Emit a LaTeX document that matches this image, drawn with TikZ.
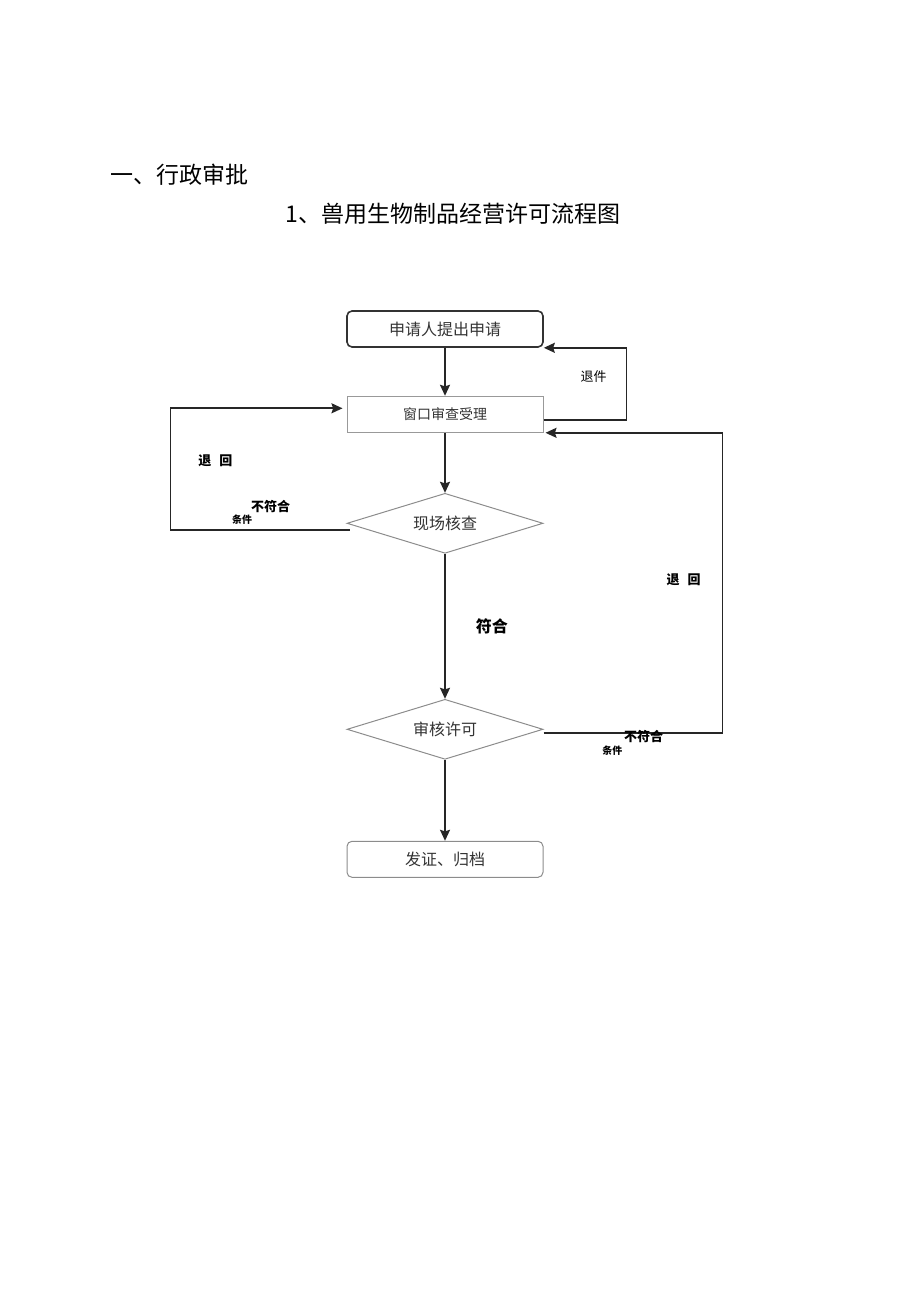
\documentclass[tikz,border=0pt]{standalone}
\usepackage{fontspec}
\newfontfamily\cjk{Noto Sans CJK SC}
\usetikzlibrary{arrows.meta,positioning,calc,shapes.geometric}

\begin{document}
\begin{tikzpicture}[
  x=0.5pt, y=-0.5pt,
  title/.style={font=\cjk\fontsize{11.5}{14}\selectfont, inner sep=0pt, anchor=west},
  box/.style={rectangle, draw=black!80, line width=0.8pt, rounded corners=2.5pt, minimum width=98pt, minimum height=18pt, align=center, inner sep=0pt, text=black!80, font=\cjk\fontsize{8}{10}\selectfont},
  plainbox/.style={box, rounded corners=0pt, draw=black!40, line width=0.5pt, font=\cjk\fontsize{7}{9}\selectfont},
  softbox/.style={box, draw=black!45, line width=0.5pt},
  check/.style={diamond, draw=black!45, line width=0.5pt, aspect=3.2, minimum width=98pt, minimum height=30pt, inner sep=0pt, text=black!80, font=\cjk\fontsize{8}{10}\selectfont},
  arrow/.style={-{Stealth[length=5.5pt, width=5pt, inset=0.8pt]}, line width=0.9pt, draw=black!85},
  lbl/.style={inner sep=0pt, font=\cjk\bfseries\fontsize{6.5}{8}\selectfont},
  note/.style={inner sep=0pt, font=\cjk\fontsize{6.5}{8}\selectfont},
  tiny/.style={inner sep=0pt, font=\cjk\bfseries\fontsize{5}{6}\selectfont},
]
\useasboundingbox (0,0) rectangle (920,1301);

% headings
\node[title] (sec) at (110,175) {一、行政审批};
\node[title] (ttl) at (285,214) {1、兽用生物制品经营许可流程图};

% flow
\node[box] (apply) at (445,329) {申请人提出申请};
\node[plainbox, below=24pt of apply] (accept) {窗口审查受理};
\node[check, below=30pt of accept] (site) {现场核查};
\node[check, below=72.5pt of site] (permit) {审核许可};
\node[softbox, below=40.5pt of permit] (issue) {发证、归档};

\draw[arrow] (apply) -- (accept);
\draw[arrow] (accept) -- (site);
\draw[arrow] (site) -- node[lbl, right=15pt, font=\cjk\bfseries\fontsize{8}{10}\selectfont] (ok) {符合} (permit);
\draw[arrow] (permit) -- (issue);

% returns
\draw[arrow] ($(accept.east)+(0,6)$) -- ++(83,0)
  |- node[note, pos=0.3, left=9.5pt] (back1) {退件} (apply.south east);
\draw[arrow] ($(site.west)+(3,7)$)
  -- node[lbl, pos=0.44, above=8.5pt] (no1) {不符合}
     node[tiny, pos=0.6, above=2.5pt] (cond1) {条件} ++(-179,0)
  |- node[lbl, pos=0.285, right=13.5pt] (back2) {退\hspace{4pt}回} ($(accept.west)+(-4,-6)$);
\draw[arrow] ($(permit.east)+(0,4)$)
  -- node[lbl, pos=0.56, yshift=-1.5pt] (no2) {不符合}
     node[tiny, pos=0.385, below=6pt] (cond2) {条件} ++(179,0)
  |- node[lbl, pos=0.255, left=10.5pt] (back3) {退\hspace{4pt}回} ($(accept.south east)+(2,0)$);

\end{tikzpicture}
\end{document}
